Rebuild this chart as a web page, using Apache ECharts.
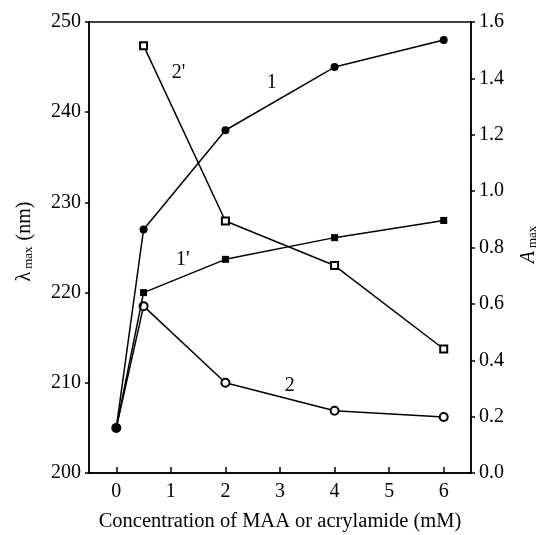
<!DOCTYPE html>
<html><head><meta charset="utf-8">
<script src="https://cdn.jsdelivr.net/npm/echarts@6/dist/echarts.min.js"></script>
<style>html,body{margin:0;padding:0;background:#fff}#c{width:541px;height:535px}</style>
</head><body><div id="c"></div>
<script>
// concentrations (mM)
var conc1 = [0, 0.5, 2, 4, 6];
var lambda1 = [205, 227, 238, 245, 248];        // curve 1 (nm)
var lambda2 = [205, 218.5, 210, 206.9, 206.2];  // curve 2 (nm)
var conc1p = [0, 0.5, 2, 4, 6];
var absorb1p = [0.16, 0.64, 0.758, 0.835, 0.896]; // curve 1' (A)
var conc2p = [0.5, 2, 4, 6];
var absorb2p = [1.516, 0.894, 0.736, 0.44];       // curve 2' (A)
var xTicks = [0, 1, 2, 3, 4, 5, 6];
// curve labels: [x, y(nm), text]
var curveLabels = [[2.85, 243.3, "1"], [1.14, 244.4, "2'"], [1.22, 223.6, "1'"], [3.18, 209.7, "2"]];

function pairs(xs, ys){ return xs.map(function(x,i){return [x, ys[i]];}); }
var serif = "'Liberation Serif', 'DejaVu Serif', serif";
var chart = echarts.init(document.getElementById('c'));
var lineStyle = {color:'#000', width:1.5};
chart.setOption({
  animation:false,
  textStyle:{fontFamily:serif, color:'#000'},
  grid:{left:89, right:70, top:22, bottom:62, outerBoundsMode:'none', containLabel:false,
        show:true, borderColor:'#000', borderWidth:1.5, backgroundColor:'transparent'},
  xAxis:{type:'value', min:-0.5, max:6.5,
    name:'Concentration of MAA or acrylamide (mM)', nameLocation:'middle', nameGap:38,
    nameTextStyle:{fontFamily:serif, fontSize:20.5, color:'#000'},
    axisLine:{onZero:false, lineStyle:{color:'#000', width:1.5}},
    axisTick:{inside:true, length:6, customValues:xTicks, lineStyle:{color:'#000', width:1.5}},
    axisLabel:{customValues:xTicks, fontFamily:serif, fontSize:20, color:'#000', margin:9},
    splitLine:{show:false}},
  yAxis:[
    {type:'value', min:200, max:250, interval:10, position:'left',
     name:'{l|λ} {s|max}  {l|(nm)}', nameLocation:'middle', nameGap:54,
     nameTextStyle:{padding:[0,0,0,12], rich:{l:{fontFamily:serif, fontSize:20, color:'#000'}, s:{fontFamily:serif, fontSize:13, color:'#000', padding:[8,0,0,0]}}},
     axisLine:{show:true, onZero:false, lineStyle:{color:'#000', width:1.5}},
     axisTick:{show:true, inside:false, length:4, lineStyle:{color:'#000', width:1.5}},
     axisLabel:{fontFamily:serif, fontSize:20, color:'#000', margin:8},
     splitLine:{show:false}},
    {type:'value', min:0, max:1.6, interval:0.2, position:'right',
     name:'{a|A} {s|max}', nameLocation:'middle', nameGap:47,
     nameTextStyle:{padding:[0,0,0,6], rich:{a:{fontFamily:serif, fontStyle:'italic', fontSize:20, color:'#000'}, s:{fontFamily:serif, fontSize:13, color:'#000', padding:[8,0,0,0]}}},
     axisLine:{show:true, onZero:false, lineStyle:{color:'#000', width:1.5}},
     axisTick:{show:true, inside:false, length:4, lineStyle:{color:'#000', width:1.5}},
     axisLabel:{fontFamily:serif, fontSize:20, color:'#000', margin:8, formatter:function(v){return v.toFixed(1);}},
     splitLine:{show:false}}
  ],
  series:[
    {type:'line', name:'1', yAxisIndex:0, data:pairs(conc1, lambda1), symbol:'circle', symbolSize:8,
     itemStyle:{color:'#000'}, lineStyle:lineStyle, z:3},
    {type:'line', name:'2', yAxisIndex:0, data:pairs(conc1, lambda2), symbol:'emptyCircle', symbolSize:8,
     itemStyle:{color:'#000', borderWidth:1.2}, lineStyle:lineStyle, z:2},
    {type:'line', name:"1'", yAxisIndex:1, data:pairs(conc1p, absorb1p), symbol:'rect', symbolSize:7,
     itemStyle:{color:'#000'}, lineStyle:lineStyle, z:3},
    {type:'line', name:"2'", yAxisIndex:1, data:pairs(conc2p, absorb2p), symbol:'emptyRect', symbolSize:7,
     itemStyle:{color:'#000', borderWidth:1.2}, lineStyle:lineStyle, z:2},
    {type:'scatter', yAxisIndex:0, symbolSize:1, silent:true, itemStyle:{opacity:1, color:'transparent'},
     data:curveLabels.map(function(d){return {value:[d[0], d[1]], name:d[2]};}),
     label:{show:true, position:'inside', formatter:'{b}', fontFamily:serif, fontSize:20, color:'#000', opacity:1}}
  ]
});
</script></body></html>
